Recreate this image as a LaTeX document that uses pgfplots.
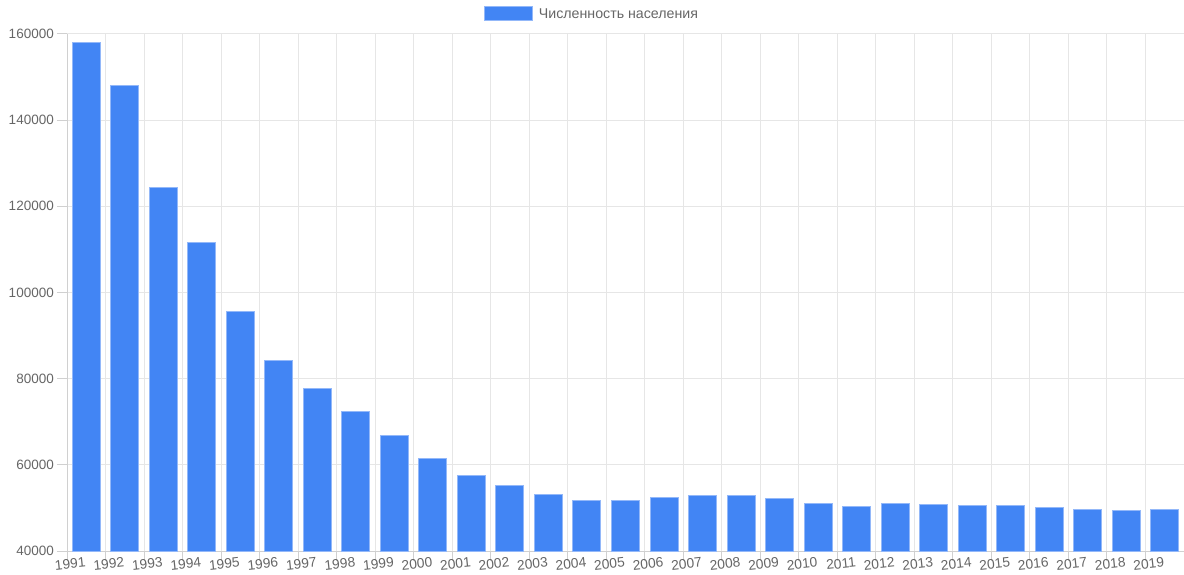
\documentclass[border=0pt]{standalone}
\usepackage{fontspec}
\setmainfont{Liberation Sans}
\usepackage{pgfplots}
\pgfplotsset{compat=1.18}
\definecolor{barblue}{HTML}{4285F4}
\definecolor{barline}{HTML}{93B8F9}
\definecolor{gridc}{HTML}{E6E6E6}
\definecolor{axc}{HTML}{D0D0D0}
\definecolor{txt}{HTML}{666666}
\begin{document}
\begin{tikzpicture}
\begin{axis}[
name=ax,
scale only axis,
width=1117pt, height=517pt,
xmin=-0.5, xmax=28.5,
ymin=40000, ymax=160000,
scaled y ticks=false,
ytick={40000,60000,80000,100000,120000,140000,160000},
yticklabels={40000,60000,80000,100000,120000,140000,160000},
xtick={-0.5,0.5,...,28.5},
xticklabels={1991,1992,1993,1994,1995,1996,1997,1998,1999,2000,2001,2002,2003,2004,2005,2006,2007,2008,2009,2010,2011,2012,2013,2014,2015,2016,2017,2018,2019,{}},
xmajorgrids=true, ymajorgrids=true,
grid style={gridc, line width=1pt},
tick align=outside,
major tick length=10pt,
tick style={axc, line width=1pt},
axis x line*=bottom, axis y line*=left,
axis line style={axc, line width=1pt, -},
xticklabel style={font=\fontsize{13.8pt}{16pt}\selectfont, text=txt, rotate=6, anchor=north east, inner sep=1pt, xshift=19.5pt, yshift=3pt},
yticklabel style={font=\fontsize{13.5pt}{16pt}\selectfont, text=txt, inner sep=3pt},
legend style={at={(0.47,1.0387)}, anchor=center, draw=none, fill=none,
  font=\fontsize{14.2pt}{16pt}\selectfont, text=txt},
legend image code/.code={\draw[fill=barblue, draw=barline, line width=1pt] (0pt,-7pt) rectangle (48pt,7pt); \path (52pt,0pt);},
]
\addplot[ybar, bar width=0.727, fill=barblue, draw=barline, line width=1pt] coordinates {
(0,158000) (1,148000) (2,124300) (3,111500) (4,95700) (5,84300)
(6,77800) (7,72300) (8,66900) (9,61500) (10,57500) (11,55200)
(12,53100) (13,51800) (14,51800) (15,52400) (16,52800) (17,52800)
(18,52100) (19,51100) (20,50300) (21,51000) (22,50700) (23,50500)
(24,50500) (25,50100) (26,49700) (27,49300) (28,49600)
};
\addlegendentry{Численность населения}
\end{axis}
\pgfresetboundingbox
\path[use as bounding box] ([shift={(-67pt,-23pt)}]ax.south west) rectangle ([shift={(0pt,34pt)}]ax.north east);
\end{tikzpicture}
\end{document}
